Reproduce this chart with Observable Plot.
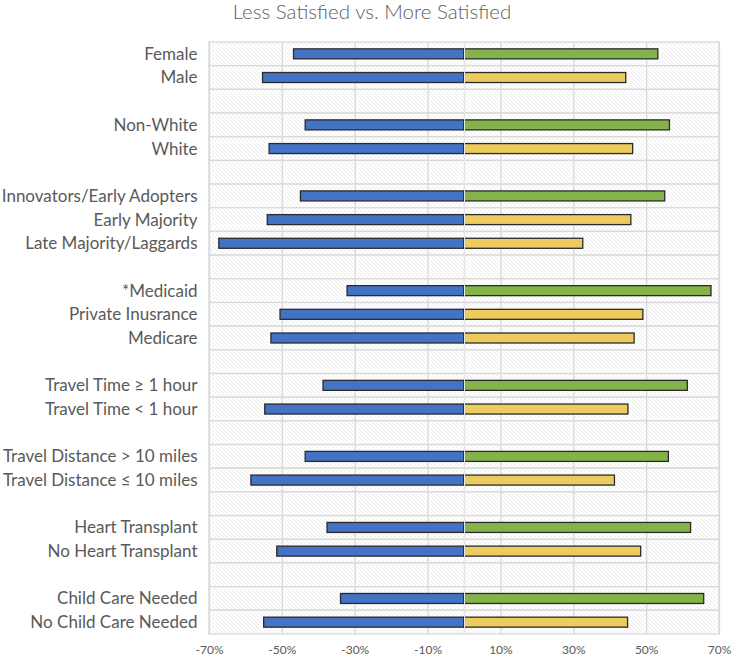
<!DOCTYPE html>
<html>
<head>
<meta charset="utf-8">
<script src="https://cdn.jsdelivr.net/npm/d3@7"></script>
<script src="https://cdn.jsdelivr.net/npm/@observablehq/plot@0.6"></script>
<style>
  html, body { margin: 0; padding: 0; background: #fff; }
  #title { height: 30px; font-family: Lato, "Open Sans", sans-serif; font-weight: 300; font-size: 20.5px; line-height: 23px; color: #606060; text-align: center; width: 738px; padding-left: 6px; box-sizing: border-box; }
  #chart svg { display: block; }
</style>
</head>
<body>
<div id="title">Less Satisfied vs. More Satisfied</div>
<div id="chart"></div>
<script>
// Row labels (null = spacer row between groups)
const categories = [
  "Female", "Male", null,
  "Non-White", "White", null,
  "Innovators/Early Adopters", "Early Majority", "Late Majority/Laggards", null,
  "*Medicaid", "Private Inusrance", "Medicare", null,
  "Travel Time ≥ 1 hour", "Travel Time < 1 hour", null,
  "Travel Distance > 10 miles", "Travel Distance ≤ 10 miles", null,
  "Heart Transplant", "No Heart Transplant", null,
  "Child Care Needed", "No Child Care Needed"
];
// Percent less satisfied (drawn to the left)
const lessSatisfied = [
  -46.8, -55.3, null,
  -43.6, -53.5, null,
  -44.9, -54.0, -67.3, null,
  -32.1, -50.5, -53.0, null,
  -38.7, -54.7, null,
  -43.6, -58.5, null,
  -37.6, -51.4, null,
  -33.9, -55.0
];
// Percent more satisfied (drawn to the right)
const moreSatisfied = [
  53.2, 44.4, null,
  56.4, 46.3, null,
  55.1, 45.8, 32.6, null,
  67.8, 49.1, 46.7, null,
  61.3, 45.0, null,
  56.1, 41.3, null,
  62.2, 48.5, null,
  65.8, 44.9
];
// First row in each group is highlighted (green), others yellow
const highlighted = [
  true, false, null,
  true, false, null,
  true, false, false, null,
  true, false, false, null,
  true, false, null,
  true, false, null,
  true, false, null,
  true, false
];
const xTicks = [-70, -50, -30, -10, 10, 30, 50, 70];
const gridTicks = [-70, -50, -30, -10, 0, 10, 30, 50, 70];

const rowKeys = categories.map((c, i) => c ?? `gap${i}`);
const rows = rowKeys.map((key, i) => ({
  key,
  label: categories[i] ?? "",
  less: lessSatisfied[i],
  more: moreSatisfied[i],
  hl: highlighted[i]
}));
const bars = rows.filter(d => d.less != null);

const rowH = 592 / 25;
const inset = (rowH - 10) / 2;

const chart = Plot.plot({
  width: 738,
  height: 627,
  marginLeft: 209,
  marginRight: 19,
  marginTop: 12,
  marginBottom: 23,
  style: { fontFamily: "Lato, 'Open Sans', sans-serif", background: "#fff" },
  x: { domain: [-70, 70] },
  y: { domain: rowKeys, padding: 0, round: false },
  marks: [
    Plot.barX(rows, { x1: -70, x2: 70, y: "key", fill: "url(#hatch)", stroke: "#d9d9d9", strokeWidth: 1.3 }),
    Plot.ruleX(gridTicks, { stroke: "#d9d9d9", strokeWidth: 1.3 }),
    Plot.barX(bars, { x1: 0, x2: "less", y: "key", fill: "#4472C4", stroke: "#2b2b2b", strokeWidth: 1.3, insetTop: inset, insetBottom: inset }),
    Plot.barX(bars, { x1: 0, x2: "more", y: "key", fill: d => d.hl ? "#84B34A" : "#ECCC5E", stroke: "#2b2b2b", strokeWidth: 1.3, insetTop: inset, insetBottom: inset }),
    Plot.ruleX([0], { stroke: "#e6e6e6", strokeWidth: 1 }),
    Plot.axisY({ tickSize: 0, tickPadding: 12, fontSize: 17, fill: "#595959", label: null,
      tickFormat: k => (k.startsWith("gap") ? "" : k) }),
    Plot.axisX({ ticks: xTicks, tickFormat: d => d + "%", tickSize: 0, tickPadding: 11, fontSize: 12, fill: "#595959", label: null })
  ]
});

// hatch pattern definition
const svg = d3.select(chart);
const defs = svg.insert("defs", ":first-child");
const pat = defs.append("pattern")
  .attr("id", "hatch")
  .attr("patternUnits", "userSpaceOnUse")
  .attr("width", 4).attr("height", 4);
pat.append("rect").attr("width", 4).attr("height", 4).attr("fill", "#ffffff");
pat.append("path")
  .attr("d", "M-1,-1 L5,5 M-1,3 L1,5 M3,-1 L5,1")
  .attr("stroke", "#dddddd").attr("stroke-width", 0.6);

document.getElementById("chart").appendChild(chart);
</script>
</body>
</html>
